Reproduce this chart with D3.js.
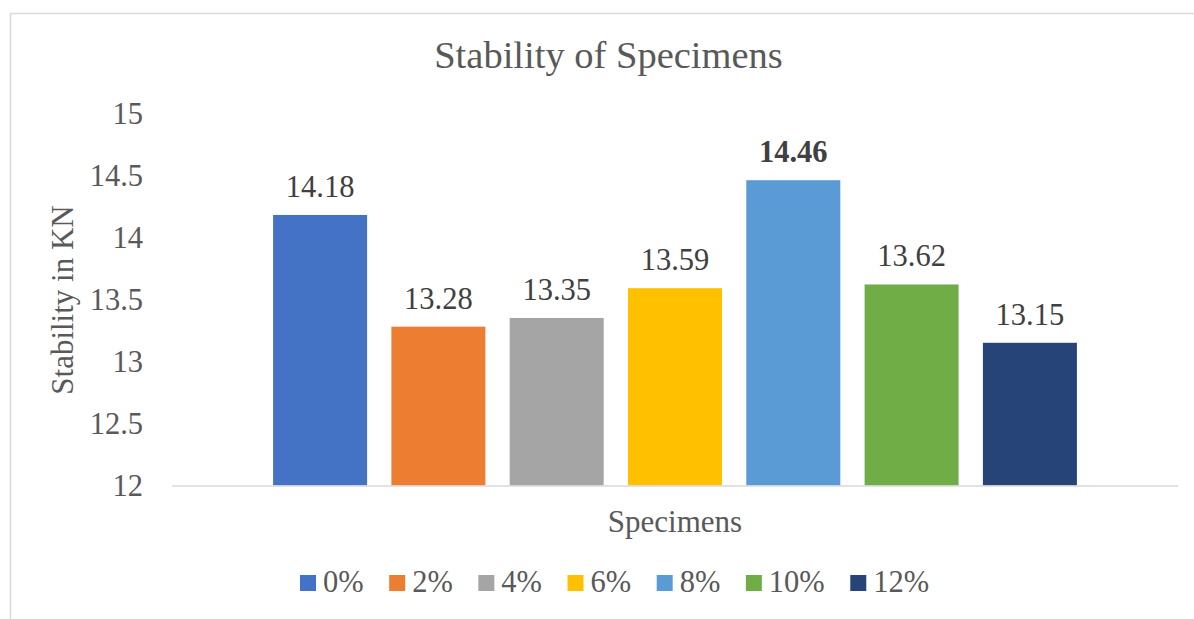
<!DOCTYPE html>
<html>
<head>
<meta charset="utf-8">
<script src="https://cdn.jsdelivr.net/npm/d3@7/dist/d3.min.js"></script>
<style>
  html, body { margin: 0; padding: 0; background: #fff; overflow: hidden; }
  svg { display: block; }
</style>
</head>
<body>
<svg id="chart" width="1194" height="619"></svg>
<script>
// ---- data ----
const series = ["0%", "2%", "4%", "6%", "8%", "10%", "12%"];
const values = [14.18, 13.28, 13.35, 13.59, 14.46, 13.62, 13.15];
const colors = ["#4472C4", "#ED7D31", "#A5A5A5", "#FFC000", "#5B9BD5", "#70AD47", "#264478"];
const yTicks = [12, 12.5, 13, 13.5, 14, 14.5, 15];
const titleText = "Stability of Specimens";
const yAxisTitle = "Stability in KN";
const xAxisTitle = "Specimens";

const FONT = "'Liberation Serif', 'Tinos', serif";

// ---- layout ----
const svg = d3.select("#chart");
const plotLeft = 172, plotRight = 1178, plotTop = 113.2, plotBottom = 485.5;

svg.append("rect")
  .attr("x", 10.5).attr("y", 13.5)
  .attr("width", 1300).attr("height", 800)
  .attr("fill", "#fff").attr("stroke", "#d9d9d9").attr("stroke-width", 1.5);

const y = d3.scaleLinear().domain([12, 15]).range([plotBottom, plotTop]);
const x = d3.scaleBand().domain(series).range([plotLeft, plotRight])
  .paddingInner(0.2054).paddingOuter(0.8545);

const yAxis = d3.axisLeft(y).tickValues(yTicks).tickSize(0).tickPadding(29)
  .tickFormat(d => String(d));
const yg = svg.append("g").attr("transform", `translate(${plotLeft},0)`).call(yAxis);
yg.attr("font-family", null).attr("font-size", null);
yg.select(".domain").remove();
yg.selectAll("text")
  .attr("fill", "#595959")
  .style("font-family", FONT)
  .style("font-size", "30.5px")
  .attr("dy", "0.34em");

svg.append("g").selectAll("rect")
  .data(values)
  .join("rect")
  .attr("x", (d, i) => x(series[i]))
  .attr("width", x.bandwidth())
  .attr("y", d => y(d))
  .attr("height", d => y(12) - y(d))
  .attr("fill", (d, i) => colors[i]);

svg.append("line")
  .attr("x1", plotLeft).attr("x2", plotRight)
  .attr("y1", plotBottom + 0.5).attr("y2", plotBottom + 0.5)
  .attr("stroke", "#d9d9d9").attr("stroke-width", 1.5);

const maxVal = d3.max(values);
svg.append("g").selectAll("text")
  .data(values)
  .join("text")
  .attr("x", (d, i) => x(series[i]) + x.bandwidth() / 2)
  .attr("y", d => y(d) - 18)
  .attr("text-anchor", "middle")
  .attr("fill", "#404040")
  .style("font-family", FONT)
  .style("font-size", "30.5px")
  .style("font-weight", d => d === maxVal ? "bold" : "normal")
  .text(d => d.toFixed(2));

svg.append("text")
  .attr("x", 608.5).attr("y", 68)
  .attr("text-anchor", "middle")
  .attr("fill", "#595959")
  .style("font-family", FONT)
  .style("font-size", "38.5px")
  .text(titleText);

svg.append("text")
  .attr("transform", "translate(73,300) rotate(-90)")
  .attr("text-anchor", "middle")
  .attr("fill", "#595959")
  .style("font-family", FONT)
  .style("font-size", "31px")
  .text(yAxisTitle);

svg.append("text")
  .attr("x", (plotLeft + plotRight) / 2).attr("y", 532)
  .attr("text-anchor", "middle")
  .attr("fill", "#595959")
  .style("font-family", FONT)
  .style("font-size", "31px")
  .text(xAxisTitle);

const legend = svg.append("g");
let lx = 300;
series.forEach((s, i) => {
  const g = legend.append("g").attr("transform", `translate(${lx},0)`);
  g.append("rect").attr("x", 0).attr("y", 575).attr("width", 16).attr("height", 16)
    .attr("fill", colors[i]);
  const t = g.append("text").attr("x", 23).attr("y", 592)
    .attr("fill", "#595959")
    .style("font-family", FONT)
    .style("font-size", "30.5px").text(s);
  const w = t.node().getComputedTextLength();
  lx += 23 + w + 25.5;
});
</script>
</body>
</html>
